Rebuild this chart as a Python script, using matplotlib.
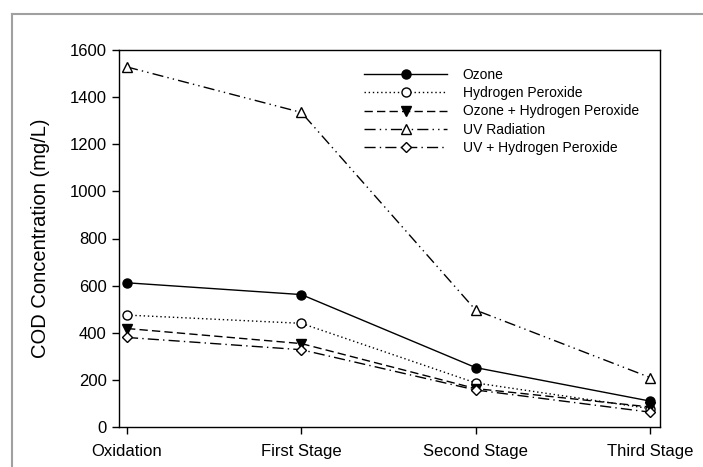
import matplotlib.pyplot as plt
from matplotlib.lines import Line2D

plt.rcParams['font.family'] = ['Liberation Sans', 'DejaVu Sans']

stages = ['Oxidation', 'First Stage', 'Second Stage', 'Third Stage']
ozone = [612, 562, 252, 110]
h2o2 = [475, 440, 187, 78]
ozone_h2o2 = [418, 354, 163, 85]
uv = [1528, 1335, 496, 210]
uv_h2o2 = [380, 328, 157, 63]
yticks = [0, 200, 400, 600, 800, 1000, 1200, 1400, 1600]

fig = plt.figure(figsize=(7.03, 4.67), dpi=100)
# grey window frame seen in the screenshot
fig.add_artist(Line2D([12/703, 1], [1 - 14/467, 1 - 14/467], color='#a0a0a0', lw=1.5,
                      transform=fig.transFigure))
fig.add_artist(Line2D([12/703, 12/703], [0, 1 - 14/467], color='#a0a0a0', lw=1.5,
                      transform=fig.transFigure))

ax = fig.add_axes([119/703, 40/467, 541/703, 377/467])
x = range(len(stages))

ms = 6.5
ax.plot(x, ozone, color='black', lw=1, ls='-', marker='o', ms=ms,
        mfc='black', mec='black', label='Ozone')
ax.plot(x, h2o2, color='black', lw=1, ls=(0, (1, 2)), marker='o', ms=ms,
        mfc='white', mec='black', label='Hydrogen Peroxide')
ax.plot(x, ozone_h2o2, color='black', lw=1, ls=(0, (6, 3)), marker='v', ms=ms,
        mfc='black', mec='black', label='Ozone + Hydrogen Peroxide')
ax.plot(x, uv, color='black', lw=1, ls=(0, (8, 3, 1, 3, 1, 3)), marker='^', ms=ms,
        mfc='white', mec='black', label='UV Radiation')
ax.plot(x, uv_h2o2, color='black', lw=1, ls=(0, (8, 3, 1, 3)), marker='D', ms=5.5,
        mfc='white', mec='black', label='UV + Hydrogen Peroxide')

ax.set_xlim(-0.046, 3.057)
ax.set_ylim(0, 1600)
ax.set_yticks(yticks)
ax.set_xticks(list(x))
ax.set_xticklabels(stages)
ax.tick_params(direction='out', length=5, width=1, labelsize=12, colors='black')
ax.tick_params(axis='y', pad=4)
ax.tick_params(axis='x', pad=7)
for s in ax.spines.values():
    s.set_linewidth(1)
ax.set_ylabel('COD Concentration (mg/L)', fontsize=14.5, labelpad=14)

ax.legend(loc='upper left', bbox_to_anchor=(0.43, 0.985), frameon=False, fontsize=10,
          handlelength=6.0, handletextpad=1.1, labelspacing=0.3)

fig.savefig('out.png', dpi=100)
